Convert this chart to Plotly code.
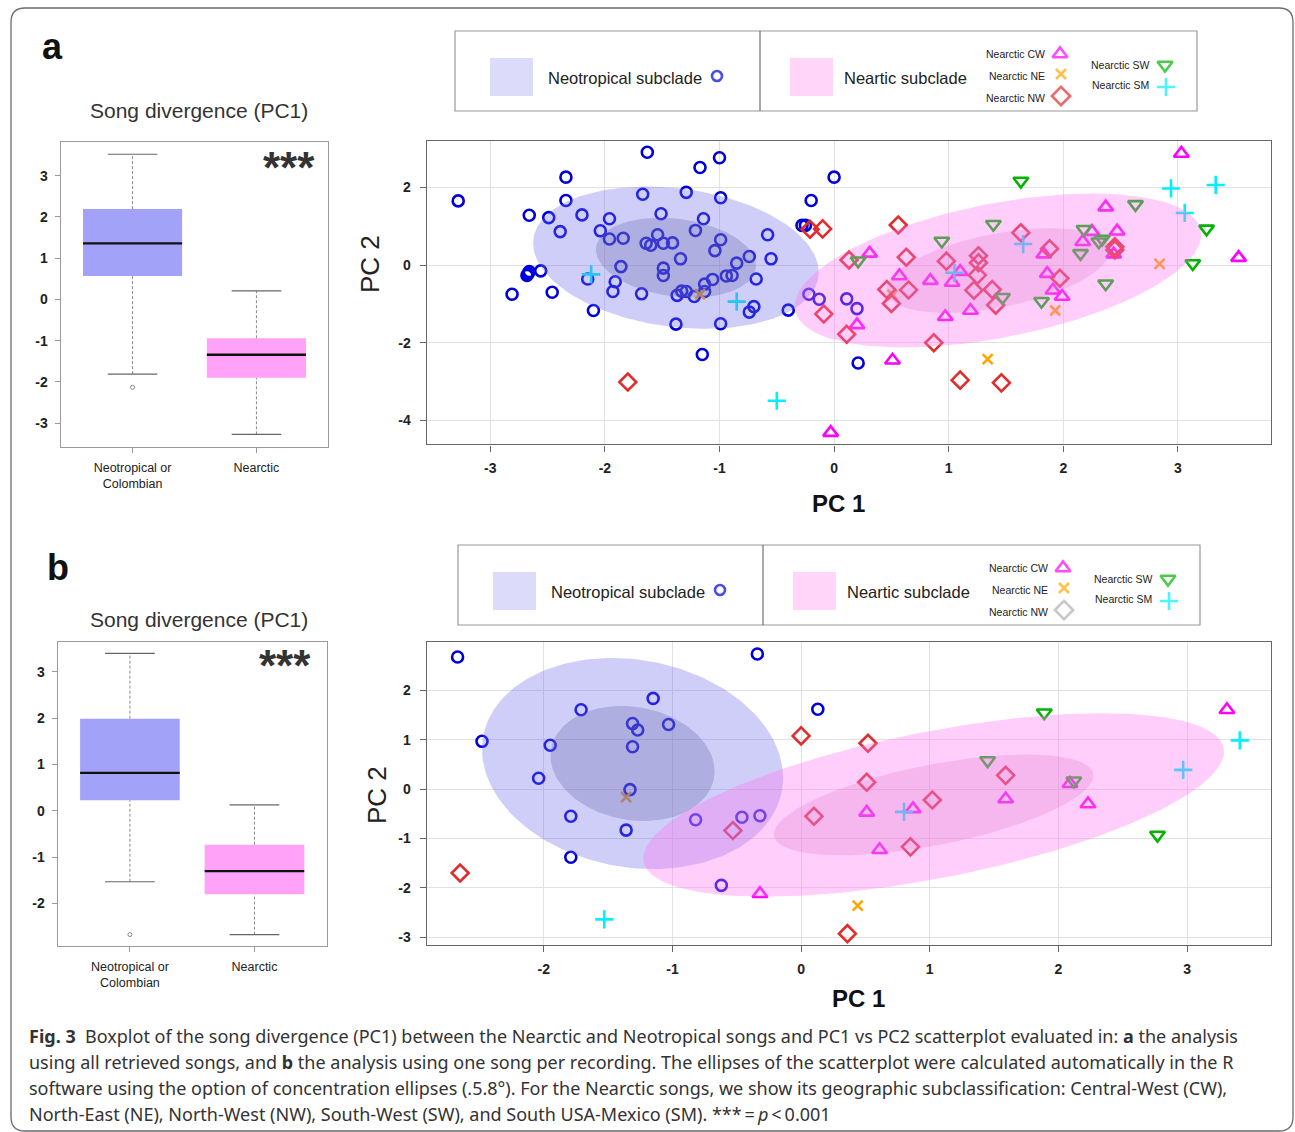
import numpy as np
import plotly.graph_objects as go

W, H = 1295, 1132

# ---------------------------------------------------------------- data
box_labels = ["Neotropical or<br>Colombian", "Nearctic"]
box_pos = [1, 2]

# panel a boxplot (PC1)
a_upper = [3.52, 0.21]
a_q3 = [2.19, -0.94]
a_median = [1.36, -1.34]
a_q1 = [0.57, -1.90]
a_lower = [-1.81, -3.27]
a_outliers = [[-2.13], []]

# panel b boxplot (PC1)
b_upper = [3.40, 0.13]
b_q3 = [1.99, -0.73]
b_median = [0.82, -1.30]
b_q1 = [0.23, -1.80]
b_lower = [-1.53, -2.67]
b_outliers = [[-2.67], []]

# tick values
a_box_ticks = [-3, -2, -1, 0, 1, 2, 3]
b_box_ticks = [-2, -1, 0, 1, 2, 3]
a_pc1_ticks = [-3, -2, -1, 0, 1, 2, 3]
a_pc2_ticks = [-4, -2, 0, 2]
b_pc1_ticks = [-2, -1, 0, 1, 2, 3]
b_pc2_ticks = [-3, -2, -1, 0, 1, 2]

# panel a scatter (PC1, PC2)
a_neo_pc1 = [-3.28, -2.34, -1.63, -1.17, -1.00, 0.00, -2.34, -2.66, -2.49, -2.20, -2.39, -1.96, -2.04,
             -1.96, -1.84, -1.67, -1.29, -0.99, -1.51, -1.14, -1.54, -1.64, -1.60, -1.49, -1.41, -1.21,
             -0.99, -1.04, -1.34, -1.86, -1.49, -1.49, -1.91, -1.93, -1.68, -2.15, -2.10, -2.46, -2.81,
             -2.68, -2.66, -2.56, -2.67, -1.37, -1.33, -1.29, -1.22, -1.13, -1.13, -1.06, -0.94, -0.89,
             -0.85, -0.74, -0.58, -0.55, -0.68, -0.70, -0.74, -0.40, -1.38, -0.99, -1.15, -0.20, -0.28,
             -0.25, -0.22, -0.13, 0.11, 0.20, 0.21]
a_neo_pc2 = [1.65, 2.26, 2.90, 2.51, 2.76, 2.26, 1.66, 1.28, 1.22, 1.29, 0.86, 1.19, 0.88,
             0.67, 0.69, 1.82, 1.87, 1.73, 1.32, 1.19, 0.78, 0.56, 0.51, 0.56, 0.57, 0.89,
             0.65, 0.37, 0.16, -0.04, -0.08, -0.27, -0.43, -0.68, -0.74, -0.36, -1.17, -0.70, -0.75,
             -0.27, -0.17, -0.15, -0.22, -0.78, -0.67, -0.68, -0.81, -0.49, -0.68, -0.37, -0.28, -0.27,
             0.05, 0.22, 0.78, 0.16, -0.36, -1.07, -1.21, -1.16, -1.52, -1.51, -2.30, 1.66, 1.02,
             1.02, -0.75, -0.88, -0.87, -1.12, -2.52]
a_cw_pc1 = [3.03, 2.37, 2.47, 2.25, 2.17, 2.44, 1.83, 1.86, 1.91, 1.99, 0.31, 0.57, 0.84, 1.03, 1.10,
            0.97, 1.19, 0.20, 0.51, 3.53, -0.03]
a_cw_pc2 = [2.87, 1.49, 0.87, 0.86, 0.60, 0.28, 0.28, -0.22, -0.65, -0.81, 0.30, -0.28, -0.40, -0.45, -0.17,
            -1.33, -1.17, -1.54, -2.45, 0.19, -4.31]
a_ne_pc1 = [2.84, 1.93, 1.34, 0.51, -1.17]
a_ne_pc2 = [0.03, -1.17, -2.42, -0.77, -0.75]
a_nw_pc1 = [-0.21, -0.10, -1.80, -0.09, 0.56, 0.13, 0.63, 0.46, 0.65, 0.50, 0.11, 0.87, 0.98, 1.26, 1.26,
            1.25, 1.22, 1.38, 1.41, 1.63, 1.88, 1.97, 2.45, 2.45, 1.10, 1.46]
a_nw_pc2 = [0.92, 0.93, -3.01, -1.26, 1.03, 0.13, 0.20, -0.63, -0.64, -0.99, -1.78, -2.00, 0.10, 0.24, 0.06,
            -0.26, -0.65, -0.63, -1.03, 0.83, 0.42, -0.34, 0.47, 0.39, -2.96, -3.03]
a_sw_pc1 = [1.63, 2.63, 2.18, 2.34, 2.31, 2.15, 3.25, 3.13, 2.37, 1.81, 1.47, 1.39, 0.94, 0.21]
a_sw_pc2 = [2.16, 1.56, 0.92, 0.67, 0.60, 0.30, 0.93, 0.04, -0.48, -0.93, -0.83, 1.05, 0.62, 0.11]
a_sm_pc1 = [2.94, 3.33, 3.06, 1.65, 1.05, -2.12, -0.85, -0.50]
a_sm_pc2 = [1.97, 2.06, 1.34, 0.54, -0.20, -0.24, -0.94, -3.49]

# panel b scatter (PC1, PC2)
b_neo_pc1 = [-2.67, -0.34, 0.13, -1.15, -1.71, -1.31, -1.27, -1.03, -2.48, -1.95, -1.31, -2.04, -1.33,
             -1.79, -1.36, -1.79, -0.82, -0.46, -0.32, -0.62]
b_neo_pc2 = [2.68, 2.74, 1.62, 1.84, 1.61, 1.33, 1.20, 1.31, 0.97, 0.89, 0.86, 0.22, -0.01,
             -0.55, -0.83, -1.38, -0.62, -0.57, -0.54, -1.95]
b_cw_pc1 = [-0.32, 3.31, 0.51, 0.87, 0.61, 1.59, 2.09, 2.23]
b_cw_pc2 = [-2.12, 1.61, -0.47, -0.40, -1.23, -0.20, 0.11, -0.30]
b_ne_pc1 = [-1.36, 0.44]
b_ne_pc2 = [-0.16, -2.36]
b_nw_pc1 = [0.00, -2.65, -0.53, 0.10, 0.52, 0.51, 1.02, 1.59, 0.85, 0.36]
b_nw_pc2 = [1.08, -1.70, -0.84, -0.55, 0.93, 0.14, -0.22, 0.28, -1.17, -2.93]
b_sw_pc1 = [1.89, 1.45, 2.12, 2.77]
b_sw_pc2 = [1.55, 0.58, 0.17, -0.93]
b_sm_pc1 = [-1.53, 3.41, 2.97, 0.80]
b_sm_pc2 = [-2.64, 0.99, 0.39, -0.46]

# concentration ellipses: centre x, centre y, half-width, half-height, y-offset at widest x, inner scale
a_ell_neo = [-1.38, 0.19, 1.246, 1.83, -0.37, 0.56]
a_ell_nea = [1.43, -0.14, 1.774, 1.98, 0.92, 0.55]
b_ell_neo = [-1.31, 0.52, 1.17, 2.14, -0.29, 0.545]
b_ell_nea = [1.03, -0.32, 2.257, 1.859, 1.08, 0.55]

legend_sub = ["Nearctic CW", "Nearctic NE", "Nearctic NW", "Nearctic SW", "Nearctic SM"]

# ---------------------------------------------------------------- styling
FONT = "Liberation Sans, Arial, sans-serif"
C_NEO = "#0000dd"
C_CW = "#ff00ff"
C_NE = "#ffa500"
C_NW = "#e32b2b"
C_SW = "#00b400"
C_SM = "#00f0ff"

GROUPS = {
    "neo": dict(symbol="circle-open", color=C_NEO, size=11),
    "cw": dict(symbol="triangle-up-open", color=C_CW, size=13),
    "ne": dict(symbol="x-thin-open", color=C_NE, size=10),
    "nw": dict(symbol="diamond-open", color=C_NW, size=13),
    "sw": dict(symbol="triangle-down-open", color=C_SW, size=13),
    "sm": dict(symbol="cross-thin-open", color=C_SM, size=13),
}


def pxx(x):
    return x / W


def pyy(y):
    return 1 - y / H


def bold_ticks(vals):
    return [f"<b>{v}</b>" for v in vals]


fig = go.Figure()


def add_box(xa, ya, upper, q3, med, q1, lower, outl, fills):
    for i, p in enumerate(box_pos):
        fig.add_trace(go.Scatter(x=[p - 0.4, p + 0.4, p + 0.4, p - 0.4, p - 0.4],
                                 y=[q1[i], q1[i], q3[i], q3[i], q1[i]], mode="lines",
                                 fill="toself", fillcolor=fills[i], line=dict(width=0),
                                 xaxis=xa, yaxis=ya, hoverinfo="skip", showlegend=False))
        for seg in ([q3[i], upper[i]], [lower[i], q1[i]]):
            fig.add_trace(go.Scatter(x=[p, p], y=seg, mode="lines",
                                     line=dict(color="#8a8a8a", width=1, dash="3px,2px"),
                                     xaxis=xa, yaxis=ya, hoverinfo="skip", showlegend=False))
        for v in (upper[i], lower[i]):
            fig.add_trace(go.Scatter(x=[p - 0.2, p + 0.2], y=[v, v], mode="lines",
                                     line=dict(color="#666", width=1.2),
                                     xaxis=xa, yaxis=ya, hoverinfo="skip", showlegend=False))
        fig.add_trace(go.Scatter(x=[p - 0.4, p + 0.4], y=[med[i], med[i]], mode="lines",
                                 line=dict(color="#111", width=2.4),
                                 xaxis=xa, yaxis=ya, hoverinfo="skip", showlegend=False))
        if outl[i]:
            fig.add_trace(go.Scatter(x=[p] * len(outl[i]), y=outl[i], mode="markers",
                                     marker=dict(symbol="circle-open", size=4, color="#888",
                                                 line=dict(width=1, color="#888")),
                                     xaxis=xa, yaxis=ya, hoverinfo="skip", showlegend=False))


def ellipse(par, scale=1.0):
    cx, cy, w, h, d, _ = par
    t = np.linspace(0, 2 * np.pi, 200)
    ex = cx + scale * w * np.cos(t)
    ey = cy + scale * (d * np.cos(t) + np.sqrt(h * h - d * d) * np.sin(t))
    return ex, ey


def add_scatter(xa, ya, groups, ell_neo, ell_nea):
    for key, (xs, ys) in groups.items():
        st = GROUPS[key]
        fig.add_trace(go.Scatter(x=xs, y=ys, mode="markers",
                                 marker=dict(symbol=st["symbol"], size=st["size"], color=st["color"],
                                             line=dict(width=2.6, color=st["color"])),
                                 xaxis=xa, yaxis=ya, hoverinfo="skip", showlegend=False))
    for par, outer, inner in ((ell_neo, "rgba(110,110,235,0.34)", "rgba(100,100,170,0.30)"),
                              (ell_nea, "rgba(255,120,240,0.36)", "rgba(215,120,205,0.26)")):
        for sc, col in ((1.0, outer), (par[5], inner)):
            ex, ey = ellipse(par, sc)
            fig.add_trace(go.Scatter(x=ex, y=ey, mode="lines", fill="toself", fillcolor=col,
                                     line=dict(width=0), xaxis=xa, yaxis=ya,
                                     hoverinfo="skip", showlegend=False))


add_box("x", "y", a_upper, a_q3, a_median, a_q1, a_lower, a_outliers, ["#a2a2f8", "#ffa2f8"])
add_scatter("x2", "y2", {"neo": (a_neo_pc1, a_neo_pc2), "cw": (a_cw_pc1, a_cw_pc2),
                         "ne": (a_ne_pc1, a_ne_pc2), "nw": (a_nw_pc1, a_nw_pc2),
                         "sw": (a_sw_pc1, a_sw_pc2), "sm": (a_sm_pc1, a_sm_pc2)},
            a_ell_neo, a_ell_nea)
add_box("x3", "y3", b_upper, b_q3, b_median, b_q1, b_lower, b_outliers, ["#a2a2f8", "#ffa2f8"])
add_scatter("x4", "y4", {"neo": (b_neo_pc1, b_neo_pc2), "cw": (b_cw_pc1, b_cw_pc2),
                         "ne": (b_ne_pc1, b_ne_pc2), "nw": (b_nw_pc1, b_nw_pc2),
                         "sw": (b_sw_pc1, b_sw_pc2), "sm": (b_sm_pc1, b_sm_pc2)},
            b_ell_neo, b_ell_nea)

# ---------------------------------------------------------------- legends
shapes = []
annotations = []
leg_x, leg_y, leg_sym, leg_col, leg_size = [], [], [], [], []


def legend(dx, dy, nw_color):
    shapes.append(dict(type="rect", xref="paper", yref="paper", x0=pxx(455 + dx), x1=pxx(1197 + dx),
                       y0=pyy(111 + dy), y1=pyy(31 + dy), line=dict(color="#9a9a9a", width=1.2)))
    shapes.append(dict(type="line", xref="paper", yref="paper", x0=pxx(760 + dx), x1=pxx(760 + dx),
                       y0=pyy(111 + dy), y1=pyy(31 + dy), line=dict(color="#555", width=1)))
    shapes.append(dict(type="rect", xref="paper", yref="paper", x0=pxx(490 + dx), x1=pxx(533 + dx),
                       y0=pyy(96 + dy), y1=pyy(58 + dy), fillcolor="#dcdcfa", line=dict(width=0)))
    shapes.append(dict(type="rect", xref="paper", yref="paper", x0=pxx(790 + dx), x1=pxx(833 + dx),
                       y0=pyy(96 + dy), y1=pyy(58 + dy), fillcolor="#ffd6fa", line=dict(width=0)))
    annotations.append(dict(x=pxx(546 + dx), y=pyy(78 + dy), xref="paper", yref="paper",
                            text="Neotropical subclade", showarrow=False, xanchor="left", yanchor="middle",
                            font=dict(family=FONT, size=16.5, color="#222")))
    annotations.append(dict(x=pxx(842 + dx), y=pyy(78 + dy), xref="paper", yref="paper",
                            text="Neartic subclade", showarrow=False, xanchor="left", yanchor="middle",
                            font=dict(family=FONT, size=16.5, color="#222")))
    small = [(1047, 54), (1047, 76), (1047, 98), (1151, 65), (1151, 85)]
    glyph = [(1060, 54, "triangle-up-open", C_CW, 13), (1061, 74, "x-thin-open", C_NE, 10),
             (1061, 96, "diamond-open", nw_color, 14), (1165, 65, "triangle-down-open", C_SW, 13),
             (1166, 87, "cross-thin-open", C_SM, 13)]
    for lab, (sx, sy) in zip(legend_sub, small):
        annotations.append(dict(x=pxx(sx + dx), y=pyy(sy + dy), xref="paper", yref="paper", text=lab,
                                showarrow=False, xanchor="right", yanchor="middle",
                                font=dict(family=FONT, size=10.5, color="#222")))
    leg_x.append(717 + dx); leg_y.append(76 + dy); leg_sym.append("circle-open")
    leg_col.append(C_NEO); leg_size.append(10)
    for gx, gy, sym, col, sz in glyph:
        leg_x.append(gx + dx); leg_y.append(gy + dy); leg_sym.append(sym)
        leg_col.append(col); leg_size.append(sz)


legend(0, 0, C_NW)
legend(3, 514, "#b0b0b0")
fig.add_trace(go.Scatter(x=leg_x, y=leg_y, mode="markers", xaxis="x5", yaxis="y5",
                         marker=dict(symbol=leg_sym, size=leg_size, color=leg_col,
                                     line=dict(width=2.6, color=leg_col)),
                         hoverinfo="skip", showlegend=False))

# outer rounded frame
r = 14
x0f, x1f, y0f, y1f = pxx(11), pxx(1293), pyy(1131), pyy(8)
rx, ry = r / W, r / H
shapes.append(dict(type="path", xref="paper", yref="paper",
                   path=(f"M {x0f + rx},{y1f} L {x1f - rx},{y1f} Q {x1f},{y1f} {x1f},{y1f - ry} "
                         f"L {x1f},{y0f + ry} Q {x1f},{y0f} {x1f - rx},{y0f} L {x0f + rx},{y0f} "
                         f"Q {x0f},{y0f} {x0f},{y0f + ry} L {x0f},{y1f - ry} Q {x0f},{y1f} {x0f + rx},{y1f} Z"),
                   line=dict(color="#6a6a6a", width=1.3)))


def ann(x, y, text, size, bold=False, color="#222", angle=0, anchor="center", family=FONT):
    annotations.append(dict(x=pxx(x), y=pyy(y), xref="paper", yref="paper", text=text, showarrow=False,
                            xanchor=anchor, yanchor="middle", textangle=angle,
                            font=dict(family=family, size=size, color=color,
                                      weight="bold" if bold else "normal")))


ann(52, 47, "a", 36, bold=True, color="#111")
ann(58, 567, "b", 36, bold=True, color="#111")
ann(199, 110, "Song divergence (PC1)", 21, color="#333")
ann(199, 619, "Song divergence (PC1)", 21, color="#333")
ann(289, 168, "***", 44, bold=True, color="#333")
ann(285, 665, "***", 44, bold=True, color="#333")
ann(370, 264, "PC 2", 26, angle=-90, color="#222")
ann(377, 795, "PC 2", 26, angle=-90, color="#222")
ann(838, 503, "PC 1", 24, bold=True, color="#111")
ann(858, 998, "PC 1", 24, bold=True, color="#111")

CAP = "Noto Sans, Open Sans, sans-serif"
cap_lines = [
    "<b>Fig. 3</b>  Boxplot of the song divergence (PC1) between the Nearctic and Neotropical songs and PC1 vs PC2 scatterplot evaluated in: <b>a</b> the analysis",
    "using all retrieved songs, and <b>b</b> the analysis using one song per recording. The ellipses of the scatterplot were calculated automatically in the R",
    "software using the option of concentration ellipses (.5.8°). For the Nearctic songs, we show its geographic subclassification: Central-West (CW),",
    "North-East (NE), North-West (NW), South-West (SW), and South USA-Mexico (SM). ***\u2009=\u2009<i>p</i>\u2009<\u20090.001",
]
for i, line in enumerate(cap_lines):
    ann(27, 1036 + 26 * i, line, 18, color="#333", anchor="left", family=CAP)

# ---------------------------------------------------------------- axes
tickfont = dict(family=FONT, size=14, color="#222")
box_ax = dict(showgrid=False, zeroline=False, showline=True, mirror=True, linecolor="#9a9a9a",
              linewidth=1.3, ticks="outside", ticklen=5, tickcolor="#9a9a9a")
sc_ax = dict(showgrid=True, gridcolor="#e1e1e1", gridwidth=1, zeroline=False, showline=True, mirror=True,
             linecolor="#666", linewidth=1.4, ticks="outside", ticklen=6, tickcolor="#666",
             tickfont=tickfont)

fig.update_layout(
    width=W, height=H, margin=dict(l=0, r=0, t=0, b=0),
    paper_bgcolor="white", plot_bgcolor="rgba(0,0,0,0)",
    showlegend=False, shapes=shapes, annotations=annotations,
    xaxis=dict(**box_ax, domain=[pxx(60.7), pxx(328.3)], range=[0.42, 2.58], tickvals=box_pos,
               ticktext=box_labels, tickfont=dict(family=FONT, size=12.5, color="#222"),
               anchor="y", ticklabelstandoff=4),
    yaxis=dict(**box_ax, domain=[pyy(446.7), pyy(142.3)], range=[-3.57, 3.81], tickvals=a_box_ticks,
               ticktext=bold_ticks(a_box_ticks), tickfont=tickfont, anchor="x", ticklabelstandoff=4),
    xaxis2=dict(**sc_ax, domain=[pxx(426.7), pxx(1270.7)], range=[-3.555, 3.81], tickvals=a_pc1_ticks,
                ticktext=bold_ticks(a_pc1_ticks), anchor="y2", ticklabelstandoff=5),
    yaxis2=dict(**sc_ax, domain=[pyy(444.3), pyy(141)], range=[-4.61, 3.19], tickvals=a_pc2_ticks,
                ticktext=bold_ticks(a_pc2_ticks), anchor="x2", ticklabelstandoff=6),
    xaxis3=dict(**box_ax, domain=[pxx(57.7), pxx(326.7)], range=[0.42, 2.58], tickvals=box_pos,
                ticktext=box_labels, tickfont=dict(family=FONT, size=12.5, color="#222"),
                anchor="y3", ticklabelstandoff=4),
    yaxis3=dict(**box_ax, domain=[pyy(945.7), pyy(641.7)], range=[-2.91, 3.65], tickvals=b_box_ticks,
                ticktext=bold_ticks(b_box_ticks), tickfont=tickfont, anchor="x3", ticklabelstandoff=4),
    xaxis4=dict(**sc_ax, domain=[pxx(426.7), pxx(1270.7)], range=[-2.91, 3.65], tickvals=b_pc1_ticks,
                ticktext=bold_ticks(b_pc1_ticks), anchor="y4", ticklabelstandoff=5),
    yaxis4=dict(**sc_ax, domain=[pyy(945), pyy(641.7)], range=[-3.16, 2.99], tickvals=b_pc2_ticks,
                ticktext=bold_ticks(b_pc2_ticks), anchor="x4", ticklabelstandoff=6),
    xaxis5=dict(domain=[0, 1], range=[0, W], visible=False, anchor="y5", fixedrange=True),
    yaxis5=dict(domain=[0, 1], range=[H, 0], visible=False, anchor="x5", fixedrange=True),
)

fig.write_html("out.html")
